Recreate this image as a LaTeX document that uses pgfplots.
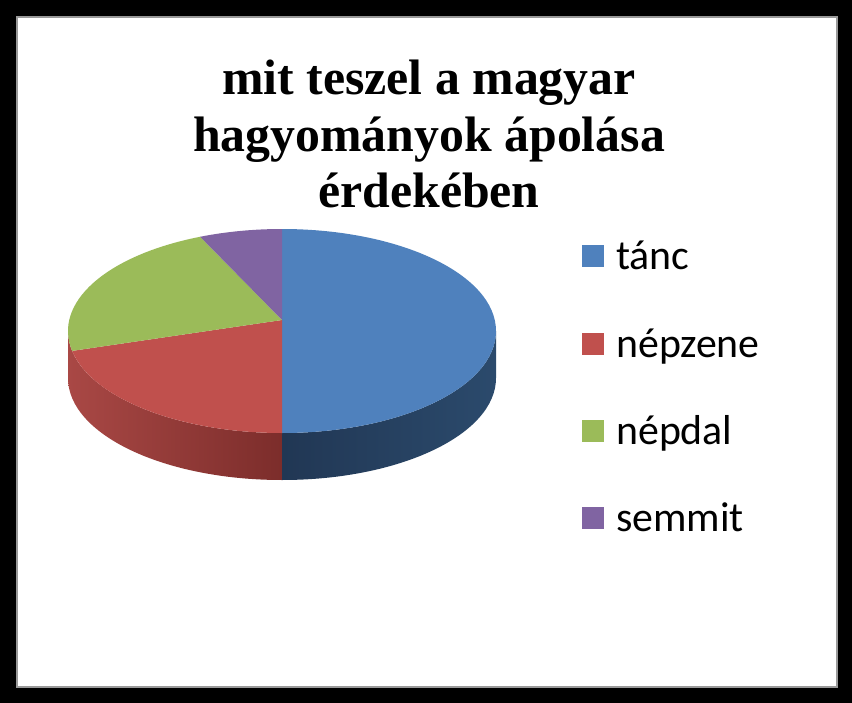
\documentclass[border=0pt]{standalone}
\usepackage{pgfplots}
\pgfplotsset{compat=1.18}
\usepackage{pgfplotstable}
\usepackage{fontspec}
\newfontfamily\titlefont{Liberation Serif}
\newfontfamily\legfont{Carlito}
\definecolor{cblue}{HTML}{4F81BD}
\definecolor{cred}{HTML}{C0504D}
\definecolor{cgreen}{HTML}{9BBB59}
\definecolor{cpurple}{HTML}{8064A2}
\definecolor{sblueA}{HTML}{213754}
\definecolor{sblueB}{HTML}{2B4A6C}
\definecolor{sredA}{HTML}{A94845}
\definecolor{sredB}{HTML}{7C2D2B}

\pgfplotstableread{
idx value
0 16
1 7
2 7
3 2
}\piedata

\begin{document}
\begin{tikzpicture}
\pgfplotstablegetelem{0}{value}\of\piedata \let\va\pgfplotsretval
\pgfplotstablegetelem{1}{value}\of\piedata \let\vb\pgfplotsretval
\pgfplotstablegetelem{2}{value}\of\piedata \let\vc\pgfplotsretval
\pgfplotstablegetelem{3}{value}\of\piedata \let\vd\pgfplotsretval
\pgfmathsetmacro\tot{\va+\vb+\vc+\vd}
\pgfmathsetmacro\aA{90}
\pgfmathsetmacro\aB{\aA-360*\va/\tot}
\pgfmathsetmacro\aC{\aB-360*\vb/\tot}
\pgfmathsetmacro\aD{\aC-360*\vc/\tot}
\pgfmathsetmacro\aE{\aD-360*\vd/\tot}
\begin{axis}[
  width=852bp, height=703bp, scale only axis,
  xmin=0, xmax=852, ymin=0, ymax=703, y dir=reverse,
  hide axis, clip=false,
]
% frame
\fill[black] (axis cs:0,0) rectangle (axis cs:852,703);
\fill[white, draw=gray!80, line width=2bp] (axis cs:17,17) rectangle (axis cs:837,687);
% sides
\shade[left color=sredA, right color=sredB]
  ([shift={(-180:214bp and 102bp)}]axis cs:282,331) arc[start angle=-180, end angle=\aB, x radius=214bp, y radius=102bp]
  -- ++(0,-47bp) arc[start angle=\aB, end angle=-180, x radius=214bp, y radius=102bp] -- cycle;
\shade[left color=sblueA, right color=sblueB]
  ([shift={(\aB:214bp and 102bp)}]axis cs:282,331) arc[start angle=\aB, end angle=0, x radius=214bp, y radius=102bp]
  -- ++(0,-47bp) arc[start angle=0, end angle=\aB, x radius=214bp, y radius=102bp] -- cycle;
% top
\fill[cblue] (axis cs:282,320) -- ([shift={(\aA:214bp and 102bp)}]axis cs:282,331) arc[start angle=\aA, end angle=\aB, x radius=214bp, y radius=102bp] -- cycle;
\fill[cred] (axis cs:282,320) -- ([shift={(\aB:214bp and 102bp)}]axis cs:282,331) arc[start angle=\aB, end angle=\aC, x radius=214bp, y radius=102bp] -- cycle;
\fill[cgreen] (axis cs:282,320) -- ([shift={(\aC:214bp and 102bp)}]axis cs:282,331) arc[start angle=\aC, end angle=\aD, x radius=214bp, y radius=102bp] -- cycle;
\fill[cpurple] (axis cs:282,320) -- ([shift={(\aD:214bp and 102bp)}]axis cs:282,331) arc[start angle=\aD, end angle=\aE, x radius=214bp, y radius=102bp] -- cycle;
% title
\node[anchor=base, inner sep=0pt, font=\titlefont\bfseries\fontsize{50}{56}\selectfont] at (axis cs:429,95) {mit teszel a magyar};
\node[anchor=base, inner sep=0pt, font=\titlefont\bfseries\fontsize{50}{56}\selectfont] at (axis cs:429,152) {hagyományok ápolása};
\node[anchor=base, inner sep=0pt, font=\titlefont\bfseries\fontsize{50}{56}\selectfont] at (axis cs:429,208) {érdekében};
% legend
\fill[cblue] (axis cs:582,245) rectangle (axis cs:604,267);
\fill[cred] (axis cs:582,333) rectangle (axis cs:604,355);
\fill[cgreen] (axis cs:582,420) rectangle (axis cs:604,442);
\fill[cpurple] (axis cs:582,507) rectangle (axis cs:604,529);
\node[anchor=base west, inner sep=0pt, font=\legfont\fontsize{42}{48}\selectfont] at (axis cs:616,269) {tánc};
\node[anchor=base west, inner sep=0pt, font=\legfont\fontsize{42}{48}\selectfont] at (axis cs:616,357) {népzene};
\node[anchor=base west, inner sep=0pt, font=\legfont\fontsize{42}{48}\selectfont] at (axis cs:616,444) {népdal};
\node[anchor=base west, inner sep=0pt, font=\legfont\fontsize{42}{48}\selectfont] at (axis cs:616,531) {semmit};
\end{axis}
\end{tikzpicture}
\end{document}
